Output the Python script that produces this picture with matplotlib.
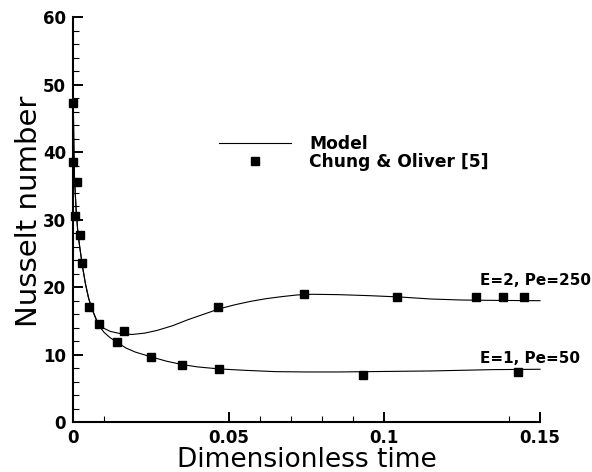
import matplotlib
matplotlib.use("Agg")
import matplotlib.pyplot as plt
from matplotlib.ticker import FixedLocator, MultipleLocator

# Model curves (dimensionless time, Nusselt number)
model_e2_t = [0, 0.0001, 0.0003, 0.0005, 0.001, 0.0015, 0.002, 0.003, 0.004, 0.005,
              0.006, 0.008, 0.010, 0.012, 0.015, 0.019, 0.023, 0.027, 0.032, 0.037,
              0.042, 0.047, 0.052, 0.057, 0.062, 0.067, 0.072, 0.077, 0.085, 0.095,
              0.105, 0.115, 0.125, 0.135, 0.15]
model_e2_nu = [54.5, 47.0, 40.0, 36.0, 31.5, 28.5, 26.5, 23.2, 20.5, 18.4,
               16.9, 14.7, 13.9, 13.45, 13.15, 13.0, 13.2, 13.6, 14.3, 15.2,
               16.0, 16.8, 17.4, 17.9, 18.3, 18.6, 18.85, 18.95, 18.9, 18.75,
               18.55, 18.25, 18.1, 18.05, 18.0]

model_e1_t = [0, 0.0001, 0.0003, 0.0005, 0.001, 0.0015, 0.002, 0.003, 0.004, 0.005,
              0.006, 0.008, 0.010, 0.012, 0.014, 0.017, 0.020, 0.025, 0.030, 0.035,
              0.040, 0.047, 0.055, 0.065, 0.075, 0.085, 0.095, 0.105, 0.115, 0.125,
              0.135, 0.15]
model_e1_nu = [54.5, 47.0, 40.0, 36.0, 31.5, 28.5, 26.5, 23.2, 20.5, 18.4,
               16.9, 14.5, 13.3, 12.5, 11.9, 11.0, 10.4, 9.7, 9.05, 8.55,
               8.2, 7.9, 7.7, 7.5, 7.45, 7.45, 7.5, 7.55, 7.6, 7.7,
               7.8, 7.85]

# Chung & Oliver [5] data
exp_e2_t = [0.0165, 0.0467, 0.0743, 0.104, 0.1295, 0.138, 0.145]
exp_e2_nu = [13.5, 17.0, 19.0, 18.6, 18.6, 18.6, 18.6]

exp_e1_t = [0.0, 0.0, 0.0012, 0.0007, 0.0021, 0.003, 0.0053, 0.0082, 0.0141,
            0.025, 0.0351, 0.047, 0.0931, 0.1429]
exp_e1_nu = [47.2, 38.5, 35.6, 30.6, 27.7, 23.6, 17.0, 14.6, 11.9,
             9.7, 8.5, 7.85, 7.0, 7.45]

xticks = [0, 0.05, 0.1, 0.15]
xtick_labels = ["0", "0.05", "0.1", "0.15"]
xminor = [0.01, 0.06, 0.07, 0.08, 0.09, 0.14]
yticks = [0, 10, 20, 30, 40, 50, 60]

plt.rcParams["font.family"] = ["DejaVu Sans"]

fig = plt.figure(figsize=(5.92, 4.72), dpi=100)
ax = fig.add_axes([0.1233, 0.1053, 0.7889, 0.8587])

ax.plot(model_e2_t, model_e2_nu, color="black", lw=0.8, clip_on=False, label="Model")
ax.plot(model_e1_t, model_e1_nu, color="black", lw=0.8, clip_on=False)
ax.plot(exp_e2_t, exp_e2_nu, ls="none", marker="s", ms=6.4, color="black",
        clip_on=False, label="Chung & Oliver [5]")
ax.plot(exp_e1_t, exp_e1_nu, ls="none", marker="s", ms=6.4, color="black",
        clip_on=False)

ax.set_xlim(0, 0.15)
ax.set_ylim(0, 60)
ax.set_xticks(xticks)
ax.set_xticklabels(xtick_labels)
ax.xaxis.set_minor_locator(FixedLocator(xminor))
ax.set_yticks(yticks)
ax.yaxis.set_minor_locator(MultipleLocator(2))

for side in ("top", "right"):
    ax.spines[side].set_visible(False)
for side in ("left", "bottom"):
    ax.spines[side].set_linewidth(1.5)

ax.tick_params(which="major", direction="in", length=7.5, width=1.4,
               labelsize=12, pad=5)
ax.tick_params(which="minor", direction="in", length=4.3, width=0.8)
for lab in ax.get_xticklabels() + ax.get_yticklabels():
    lab.set_fontweight("bold")

ax.set_xlabel("Dimensionless time", fontsize=19, labelpad=0)
ax.set_ylabel("Nusselt number", fontsize=21)
ax.yaxis.set_label_coords(-0.065, 0.52)

ax.text(0.1308, 20.3, "E=2, Pe=250", fontsize=11, fontweight="bold",
        ha="left", va="baseline")
ax.text(0.1308, 8.74, "E=1, Pe=50", fontsize=11, fontweight="bold",
        ha="left", va="baseline")

leg = ax.legend(loc="upper left", bbox_to_anchor=(0.3136, 0.708), frameon=False,
                prop={"size": 12.3, "weight": "bold"}, handlelength=4.2,
                handletextpad=1.05, labelspacing=0.0, borderpad=0,
                borderaxespad=0)
for h in leg.legend_handles:
    h.set_markersize(6.2)

fig.savefig("out.png", dpi=100)
